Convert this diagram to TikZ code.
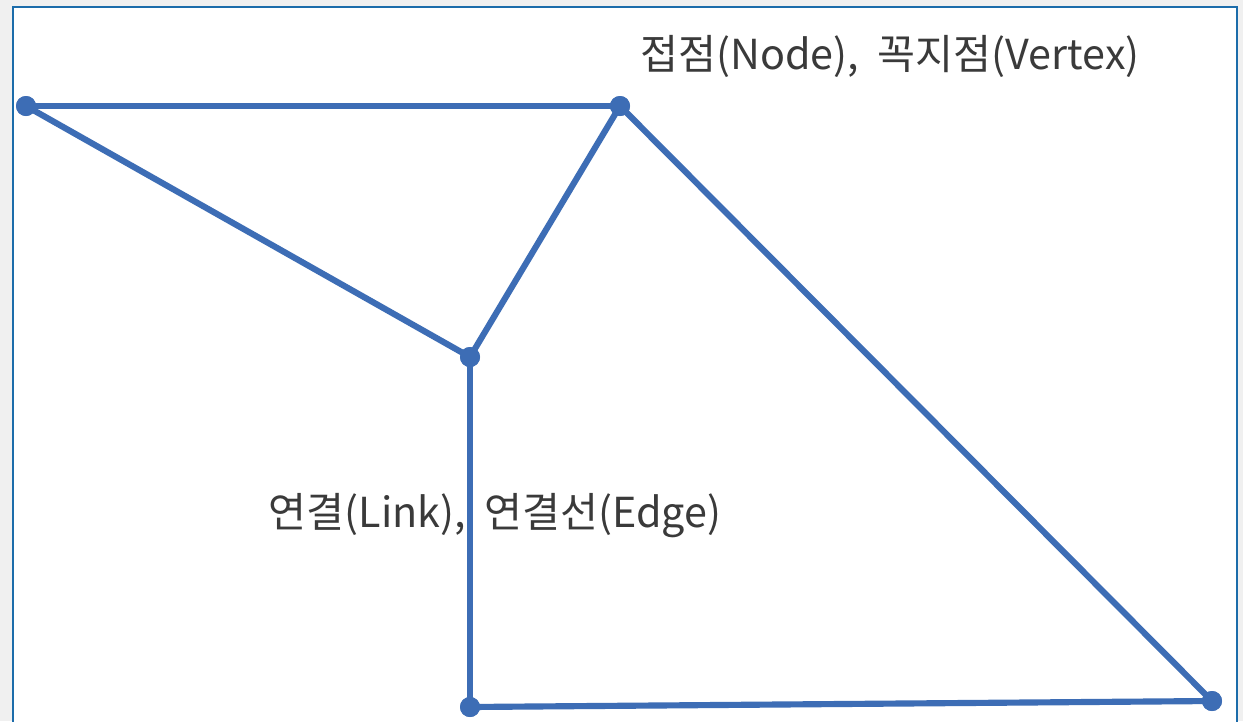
\documentclass[tikz,border=0pt]{standalone}
\usepackage{fontspec}
\newfontfamily\krfont{Noto Sans CJK KR}
\usetikzlibrary{positioning}
\definecolor{edgeblue}{HTML}{3D6DB5}
\definecolor{frameblue}{HTML}{1C6CAA}
\definecolor{pagegray}{HTML}{F0F0F0}
\definecolor{labelgray}{HTML}{3A3A3A}

\begin{document}
\begin{tikzpicture}[x=0.02cm,y=-0.02cm,
  link/.style={edgeblue,line width=3.5pt},
  vdot/.style={circle,fill=edgeblue,inner sep=0pt,minimum size=0.4cm},
  caption/.style={text=labelgray,font=\krfont\fontsize{23.5}{26}\selectfont,inner sep=0pt}]
\fill[pagegray] (0,0) rectangle (1243,721);
\useasboundingbox (0,0) rectangle (1243,721);
\fill[white] (13,7) rectangle (1237,725);
\draw[frameblue,line width=1.5pt] (13,730)--(13,7)--(1237,7)--(1237,730);
% vertices
\node[vdot] (vL) at (26,106) {};
\node[vdot] (vT) at (620,106) {};
\node[vdot] (vM) at (470,357) {};
\node[vdot] (vB) at (470,707) {};
\node[vdot] (vR) at (1212,701) {};
% links
\draw[link] (vL.center)--(vT.center);
\draw[link] (vL.center)--(vM.center);
\draw[link] (vT.center)--(vM.center);
\draw[link] (vM.center)--(vB.center);
\draw[link] (vB.center)--(vR.center);
\draw[link] (vT.center)--(vR.center);
\foreach \v in {vL,vT,vM,vB,vR}
  \fill[edgeblue] (\v) circle (0.2cm);
% labels
\node[caption] (nodeLabel) at (890,56) {접점(Node),\ \ 꼭지점(Vertex)};
\node[caption] (edgeLabel) at (495,516) {연결(Link),\ \ 연결선(Edge)};
\end{tikzpicture}
\end{document}
